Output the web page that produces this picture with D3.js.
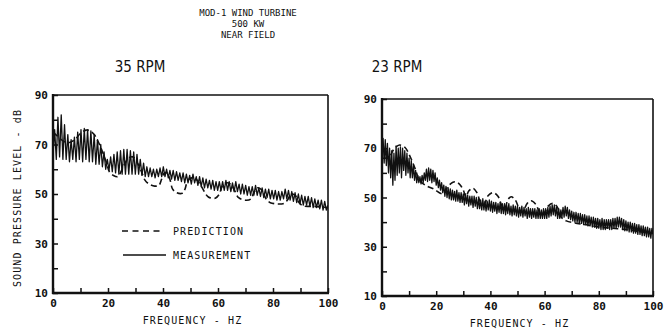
<!DOCTYPE html>
<html>
<head>
<meta charset="utf-8">
<script src="https://cdn.jsdelivr.net/npm/d3@7"></script>
<style>
  html, body { margin: 0; padding: 0; background: #fff; }
  svg { display: block; }
  .mono { font-family: "DejaVu Sans Mono", "Liberation Mono", monospace; fill: #111; }
  .rpm { font-family: "Liberation Sans Narrow", "DejaVu Sans Condensed", "Liberation Sans", sans-serif; fill: #111; }
</style>
</head>
<body>
<script>
// ---------------- DATA ----------------
const titleLines = ["MOD-1 WIND TURBINE", "500 KW", "NEAR FIELD"];
const panelTitles = ["35 RPM", "23 RPM"];
const xTickValues = [0, 10, 20, 30, 40, 50, 60, 70, 80, 90, 100];
const xTickLabels = [0, 20, 40, 60, 80, 100];
const yTickValues = [10, 20, 30, 40, 50, 60, 70, 80, 90];
const yTickLabels = [10, 30, 50, 70, 90];
const xDomain = [0, 100];
const yDomain = [10, 90];
const xAxisTitle = "FREQUENCY - HZ";
const yAxisTitle = "SOUND PRESSURE LEVEL - dB";
const legendLabels = ["PREDICTION", "MEASUREMENT"];

// Measured spectrum, 35 RPM: levels (dB) sampled uniformly from 0 to 100 Hz
const measured35 = [
  66, 76, 64, 81, 65, 82, 64, 78, 64, 74, 63, 72, 64, 73, 63, 75, 64, 76, 63, 76.5,
  64, 76, 63, 75.5, 63, 74, 62, 72, 62, 70, 61, 67, 60, 64, 59.5, 65, 59, 66, 58.5, 67,
  58, 67.5, 58, 68, 58, 68, 58, 67.5, 58, 67, 58, 66, 58, 64, 57.5, 62.5, 57, 61, 57,
  60.5, 57, 60, 56.5, 60, 57, 60.5, 57, 61, 57, 60, 56.5, 59.5, 56, 59.5, 55.5, 59, 55.5, 58.5, 55,
  58.5, 54.5, 58, 54.5, 57.5, 54, 58, 54.5, 57, 53.5, 57, 53, 56.5, 52.5, 56, 52.5, 55.5, 52, 55.5, 51.5,
  55, 51.5, 55, 51.5, 55, 51.5, 55.5, 51.5, 55, 51, 54.5, 51, 55, 51, 54, 50, 54, 50, 53.5, 49.5,
  53, 49.5, 53, 49.5, 53.5, 49.5, 52.5, 49, 52.5, 48.5, 52, 48.5, 52, 48, 51.5, 48, 51.5, 47.5, 51, 47.5,
  51, 48, 52, 48, 51.5, 47.5, 51, 47, 50.5, 46.5, 50, 46, 49.5, 45.5, 49, 45.5, 49, 45, 48.5, 44.5,
  48, 44.5, 47.5, 44, 47.5, 43.5, 47, 43.5, 45.5
];

// Measured spectrum, 23 RPM: levels (dB) sampled uniformly from 0 to 100 Hz
const measured23 = [
  66, 74, 64, 73.5, 63, 72,
  60, 70, 58, 69, 55, 68, 57,
  71, 59, 70, 60, 70.5, 58, 70, 61, 69, 59, 68, 60, 66, 58, 65,
  58, 63, 57, 61, 56, 59, 56,
  58.5, 55.5, 59, 56, 60,
  57, 61.5, 56.5, 62, 57, 61.5, 56, 61, 56.5, 60, 55,
  58, 54, 57, 53, 56, 52, 55,
  50.5, 54.5, 50, 54, 49.5, 53.5, 49, 53, 49, 52.5, 48.5, 53, 48.5, 52, 48, 52, 48, 51.5, 47, 51.5,
  47.5, 51, 46.5, 50.5, 47, 50.5, 46, 50.5, 46.5, 50,
  45.5, 49.5, 45.5, 49, 45, 49.5, 45, 48.5, 44.5, 48.5, 45, 49, 44.5, 48.5, 44, 48, 44.5, 48, 43.5, 47.5,
  44, 48, 43.5, 47.5, 43.5, 47.5, 43, 47, 43.5, 47.5, 43, 46.5, 42.5, 47, 43, 46.5, 42.5, 46.5, 42, 46,
  42.5, 46.5, 42, 46, 42.5, 45.5, 41.5, 46, 42, 45.5, 41.5, 45.5, 42, 45.5, 41.5, 45, 41.5, 45.5, 41.5, 45,
  41.5, 45.5, 41.5,
  45.5, 41.5, 46, 42, 46.5, 42.5, 47, 43, 47, 42.5, 46, 41.5, 45.5, 41.5, 45, 42, 46, 42, 46.5, 42.5,
  46, 41.5, 45, 41, 44.5,
  40.5, 44, 40, 44, 40, 43.5, 39.5, 43.5, 39.5, 43, 39, 43, 39, 42.5, 38.5, 42.5, 38.5, 42, 38, 42,
  38, 41.5, 37.5, 41.5, 37.5, 41, 37, 41.5, 37, 41, 37, 41, 37.5, 41, 37, 41, 37, 41.5, 37.5, 41.5,
  37.5, 42, 38, 42, 38, 41.5, 37, 41, 36.5, 40.5, 36.5, 40, 36, 40, 36, 39.5, 35.5, 39.5, 35.5, 39,
  35, 39, 35, 38.5, 34.5, 38.5, 34.5, 38, 34, 38, 34, 37.5, 33.5, 37.5, 35
];

// Predicted spectrum: [frequency Hz, level dB]
const predicted35 = [
  [0,75],[2,73],[4,71.2],[6,70.8],[8,72],[10,74.5],[12,75.8],[13.5,75.5],[15,74],[16.5,71],
  [18,67],[19.5,62.5],[20.5,59],[22,57.5],[23.5,57],[24.5,58.5],[26,62],[27.5,64.5],[29,65],
  [30.5,63],[32,59.5],[33.5,55.5],[35,54],[37,53.2],[38.5,53.5],[39.5,56],[40.5,58.5],[41.5,58.5],
  [42.5,56],[43.5,52],[45,50.5],[47,50.3],[48,52],[49,55.5],[50.5,56.5],[52,56],[53.5,54],[55,51],
  [56.5,48.8],[59,48.3],[60.5,50],[61.5,53],[63,54.5],[64.5,54],[66,51.5],[67.5,48.5],[70,47.5],
  [72,48],[73,50.5],[74.5,52.5],[76,51.5],[77.5,48],[79,46.5],[84,46.2],[85.5,48],[86.5,50],
  [88,49.5],[89.5,46.5],[91,45.2],[95,45],[100,44.5]
];
const predicted23 = [
  [0,66],[1.5,66],[3,67],[4.5,69.8],[6.5,71.3],[8.5,70.3],[10.5,66.3],[12.3,61.5],[13.8,57],
  [16,55],[19,53.5],[22.5,51.5],[24.2,54.3],[26,56.1],[27.3,56.4],[28.7,55.3],[30,53],[31,50.3],
  [32,52.6],[33.5,53.8],[35,52],[36.5,47.8],[37.6,47.2],[39.2,50.8],[41,52],[42.8,50.5],[44.5,46],
  [45.3,45.6],[46.5,49.2],[47.7,50.3],[49.2,49],[51,44.6],[52,44.2],[53.5,47.5],[55,48.7],
  [56.7,47.3],[58.5,43.5],[59.6,43.2],[61.3,46.5],[63,47.6],[64.6,46.3],[66,42.2],[68,40.5],
  [72,39.5],[76,38.8],[80,38],[85,37.5],[90,37],[95,36.2],[100,35.5]
];

// ---------------- LAYOUT ----------------
const W = 668, H = 330;
const panels = [
  { title: panelTitles[0], titleX: 140, meas: measured35, pred: predicted35,
    x0: 53, x1: 328, yTop: 95, yBot: 293, legend: true, yTitle: true },
  { title: panelTitles[1], titleX: 397, meas: measured23, pred: predicted23,
    x0: 382, x1: 653, yTop: 99, yBot: 296, legend: false, yTitle: false }
];

const svg = d3.select("body").append("svg").attr("width", W).attr("height", H);
svg.append("rect").attr("width", W).attr("height", H).attr("fill", "#fff");

// Main title
svg.append("g").selectAll("text").data(titleLines).join("text")
  .attr("class", "mono")
  .attr("x", 248).attr("y", (d, i) => [16, 27, 38][i])
  .attr("text-anchor", "middle")
  .attr("font-size", 9)
  .text(d => d);

panels.forEach(p => {
  const x = d3.scaleLinear().domain(xDomain).range([p.x0, p.x1]);
  const y = d3.scaleLinear().domain(yDomain).range([p.yBot, p.yTop]);
  const g = svg.append("g");

  // panel title
  g.append("text").attr("class", "rpm")
    .attr("x", p.titleX).attr("y", 72)
    .attr("text-anchor", "middle")
    .attr("font-size", 15)
    .text(p.title);

  // clip
  const cid = "clip" + p.x0;
  svg.append("clipPath").attr("id", cid).append("rect")
    .attr("x", p.x0).attr("y", p.yTop).attr("width", p.x1 - p.x0).attr("height", p.yBot - p.yTop);

  // measurement
  const n = p.meas.length;
  const fx = d3.scaleLinear().domain([0, n - 1]).range(xDomain);
  const measLine = d3.line().x((d, i) => x(fx(i))).y(d => y(d));
  g.append("path").attr("clip-path", `url(#${cid})`)
    .attr("d", measLine(p.meas))
    .attr("fill", "none").attr("stroke", "#111").attr("stroke-width", 1.3)
    .attr("stroke-linejoin", "round");

  // prediction
  const predLine = d3.line().x(d => x(d[0])).y(d => y(d[1])).curve(d3.curveCatmullRom.alpha(0.5));
  g.append("path").attr("clip-path", `url(#${cid})`)
    .attr("d", predLine(p.pred))
    .attr("fill", "none").attr("stroke", "#111").attr("stroke-width", 1.6)
    .attr("stroke-dasharray", "6,3.5");

  // axes (ticks inward)
  const xa = d3.axisBottom(x).tickValues(xTickValues).tickSizeInner(-5).tickSizeOuter(0).tickPadding(6)
    .tickFormat(d => xTickLabels.includes(d) ? d : "");
  const gx = g.append("g").attr("transform", `translate(0,${p.yBot})`).call(xa);
  gx.select(".domain").remove();
  gx.selectAll("line").attr("stroke", "#111").attr("stroke-width", 1.5);
  gx.selectAll("text").attr("class", "mono").attr("font-size", 11).attr("font-weight", "bold").attr("fill", "#111");

  const ya = d3.axisLeft(y).tickValues(yTickValues).tickSizeInner(-5).tickSizeOuter(0).tickPadding(5)
    .tickFormat(d => yTickLabels.includes(d) ? d : "");
  const gy = g.append("g").attr("transform", `translate(${p.x0},0)`).call(ya);
  gy.select(".domain").remove();
  gy.selectAll("line").attr("stroke", "#111").attr("stroke-width", 1.5);
  gy.selectAll("text").attr("class", "mono").attr("font-size", 11).attr("font-weight", "bold").attr("fill", "#111");

  // frame
  const fr = g.append("g").attr("stroke", "#111").attr("fill", "none");
  fr.append("line").attr("x1", p.x0).attr("x2", p.x1).attr("y1", p.yTop).attr("y2", p.yTop).attr("stroke-width", 1.6);
  fr.append("line").attr("x1", p.x1).attr("x2", p.x1).attr("y1", p.yTop).attr("y2", p.yBot).attr("stroke-width", 1.6);
  fr.append("line").attr("x1", p.x0).attr("x2", p.x0).attr("y1", p.yTop - 1).attr("y2", p.yBot + 1).attr("stroke-width", 2.4);
  fr.append("line").attr("x1", p.x0 - 1).attr("x2", p.x1 + 1).attr("y1", p.yBot).attr("y2", p.yBot).attr("stroke-width", 2.4);

  // x axis title
  g.append("text").attr("class", "mono")
    .attr("x", (p.x0 + p.x1) / 2 + 2).attr("y", p.yBot + 31)
    .attr("text-anchor", "middle").attr("font-size", 10).attr("letter-spacing", 1.1)
    .text(xAxisTitle);

  if (p.yTitle) {
    g.append("text").attr("class", "mono")
      .attr("transform", `translate(21,${(p.yTop + p.yBot) / 2 + 4}) rotate(-90)`)
      .attr("text-anchor", "middle").attr("font-size", 10).attr("letter-spacing", 1.1)
      .text(yAxisTitle);
  }

  if (p.legend) {
    const lg = g.append("g");
    lg.append("line").attr("x1", 122).attr("x2", 163).attr("y1", 231).attr("y2", 231)
      .attr("stroke", "#111").attr("stroke-width", 1.6).attr("stroke-dasharray", "6,4.5");
    lg.append("line").attr("x1", 123).attr("x2", 166).attr("y1", 255).attr("y2", 255)
      .attr("stroke", "#111").attr("stroke-width", 1.3);
    lg.selectAll("text").data(legendLabels).join("text").attr("class", "mono")
      .attr("x", 173).attr("y", (d, i) => [235, 259][i])
      .attr("font-size", 10).attr("letter-spacing", 1.1)
      .text(d => d);
  }
});
</script>
</body>
</html>
